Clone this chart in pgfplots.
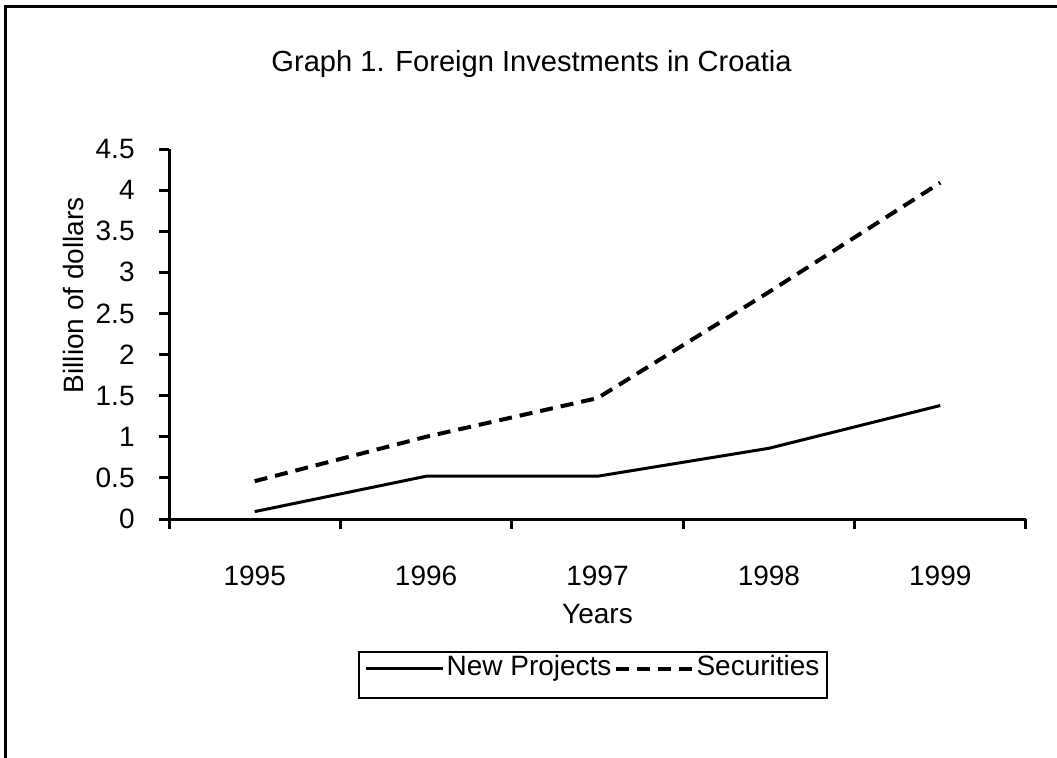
\documentclass[border=0pt]{standalone}
\usepackage{fontspec}
\setmainfont{Liberation Sans}
\usepackage{pgfplots}
\pgfplotsset{compat=1.18}
\newcommand\cf{\fontsize{14.05}{16}\selectfont}
\newcommand\tf{\fontsize{14.6}{17}\selectfont}
\begin{document}
\begin{tikzpicture}
\useasboundingbox (0,0) rectangle (528.5bp,379bp);
\draw[line width=1.5bp] (2.5bp,0) -- (2.5bp,375.5bp) -- (528.5bp,375.5bp);
\begin{axis}[
  at={(84.5bp,119.5bp)}, anchor=south west,
  scale only axis, width=428.5bp, height=185bp,
  xmin=0.5, xmax=5.5, ymin=0, ymax=4.5,
  axis x line=bottom, axis y line=left,
  axis line style={line width=1.5bp, -},
  xtick={1,2,3,4,5}, xticklabels={1995,1996,1997,1998,1999},
  minor xtick={0.5,1.5,2.5,3.5,4.5,5.5},
  ytick={0,0.5,1,1.5,2,2.5,3,3.5,4,4.5},
  tick align=outside,
  major tick length=5bp, minor tick length=5bp,
  tick style={line width=1.5bp, black},
  every major x tick/.append style={draw=none},
  /pgf/number format/assume math mode=true,
  ticklabel style={font=\cf},
  xticklabel style={anchor=base, yshift=-28bp, inner sep=0pt},
  yticklabel style={anchor=east, xshift=-12bp, inner sep=0pt},
  xlabel={Years},
  xlabel style={font=\cf, at={(axis description cs:0.5,0)}, anchor=base, yshift=-52bp, inner sep=0pt},
  ylabel={Billion of dollars},
  ylabel style={font=\cf, at={(axis description cs:-0.0992,0.605)}, anchor=base, inner sep=0pt},
  title={Graph 1. Foreign Investments in Croatia},
  title style={font=\tf, at={(axis description cs:0.423,1.178)}, anchor=base, inner sep=0pt},
  legend columns=2,
  legend style={at={(axis description cs:0.4948,-0.4216)}, anchor=center, draw=black, line width=1bp,
    font=\cf, inner xsep=3bp, inner ysep=0.5bp, column sep=0pt,
    nodes={inner xsep=1bp, inner ysep=1.5bp, text height=10bp, text depth=9bp}},
  legend image code/.code={\draw[#1] (0bp,3bp) -- (38.5bp,3bp);},
]
\addplot[black, line width=1.5bp] coordinates {(1,0.09) (2,0.52) (3,0.52) (4,0.86) (5,1.38)};
\addlegendentry{New Projects}
\addplot[black, line width=2bp, dash pattern=on 6.5bp off 4bp] coordinates {(1,0.46) (2,1.0) (3,1.47) (4,2.76) (5,4.09)};
\addlegendentry{Securities}
\end{axis}
\end{tikzpicture}
\end{document}
